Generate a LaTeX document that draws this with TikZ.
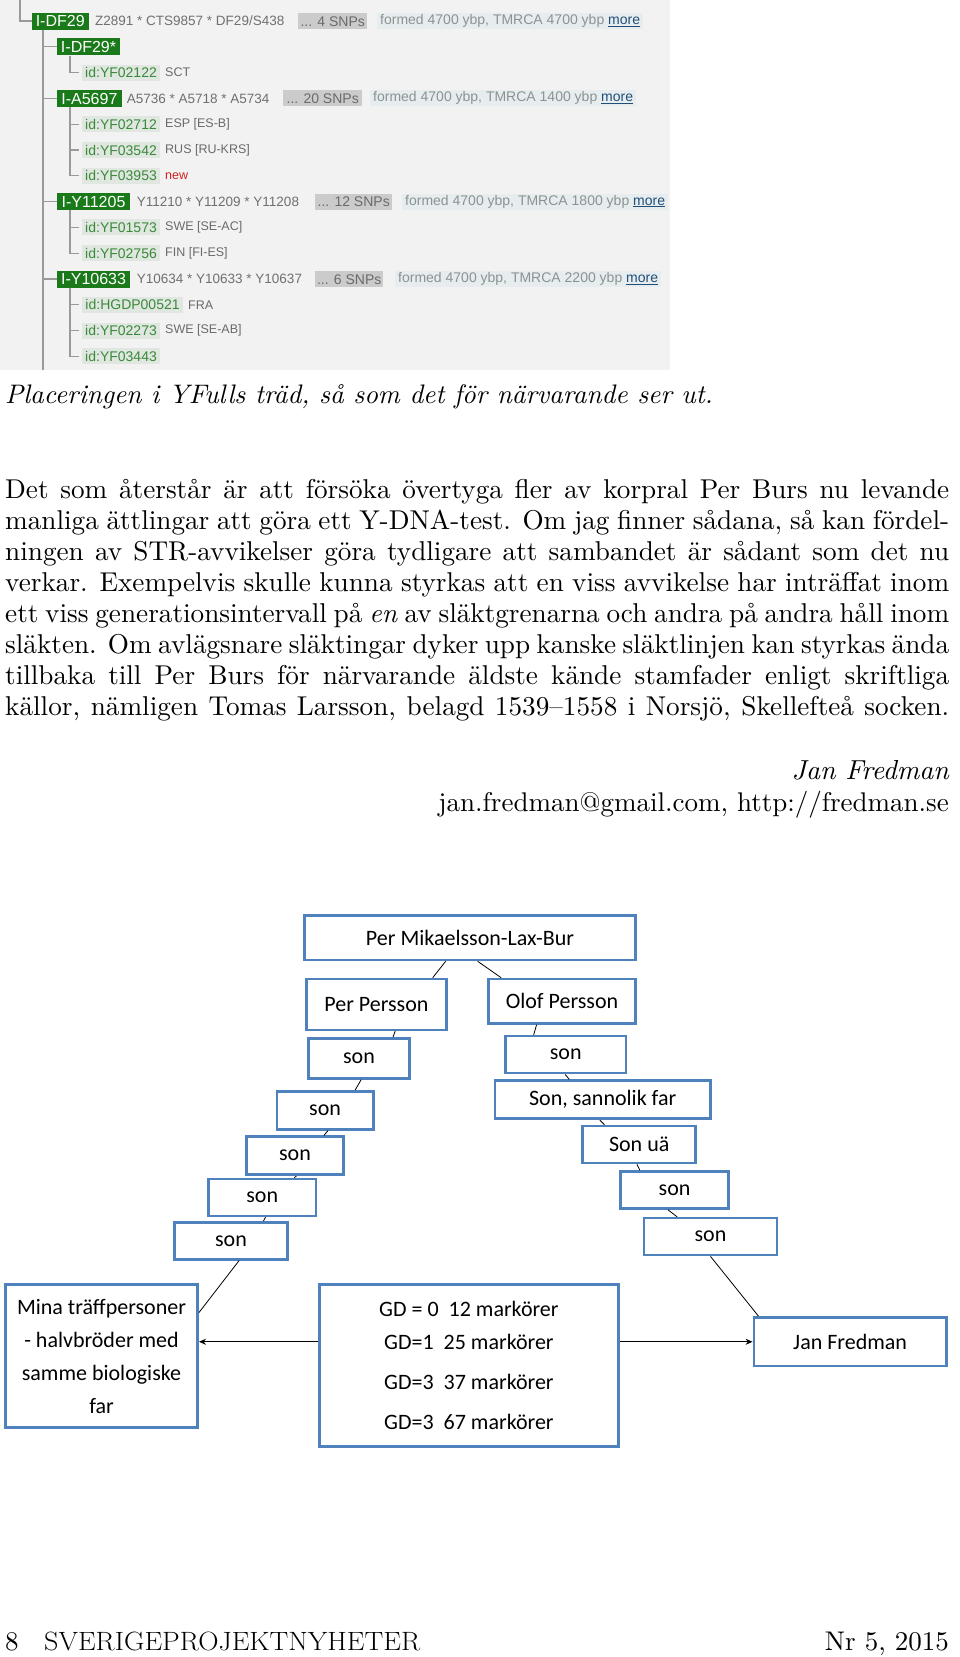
\documentclass[tikz,border=0pt]{standalone}
\usepackage{fontspec}
\usepackage{graphicx}
\newfontfamily\tsf{Liberation Sans}
\newfontfamily\carl{Carlito}
\newfontfamily\cmten{lmroman10}[Extension=.otf, UprightFont=*-regular, ItalicFont=*-italic]
\usetikzlibrary{calc,arrows.meta}
\definecolor{panelbg}{HTML}{F2F2F2}
\definecolor{ygreen}{RGB}{26,122,26}
\definecolor{idbg}{HTML}{E0E6E0}
\definecolor{idgreen}{HTML}{3A8A3A}
\definecolor{mkgrey}{HTML}{707070}
\definecolor{cgrey}{HTML}{6A6A6A}
\definecolor{snpbg}{HTML}{CBCBCB}
\definecolor{snptext}{HTML}{6A6A6A}
\definecolor{formbg}{HTML}{E7EDEE}
\definecolor{formtext}{HTML}{8A9393}
\definecolor{moreblue}{HTML}{1F4E79}
\definecolor{newred}{HTML}{D02020}
\definecolor{tline}{HTML}{9A9A9A}
\definecolor{boxblue}{HTML}{4F81BD}
\tikzset{
  hdr/.style={anchor=west, fill=ygreen, text=white, font=\tsf\fontsize{16}{16}\selectfont, inner xsep=0pt, inner ysep=0pt, minimum height=17pt, text height=11.5pt, text depth=0pt},
  idb/.style={anchor=west, fill=idbg, text=idgreen, font=\tsf\fontsize{14}{14}\selectfont, inner xsep=0pt, inner ysep=0pt, minimum height=16pt, minimum width=78.3pt, text height=10pt, text depth=0pt},
  mk/.style={anchor=west, text=mkgrey, font=\tsf\fontsize{13.5}{14}\selectfont, inner sep=0pt},
  ctry/.style={anchor=west, text=cgrey, font=\tsf\fontsize{12.5}{13}\selectfont, inner sep=0pt},
  snp/.style={anchor=west, fill=snpbg, text=snptext, font=\tsf\fontsize{14}{14}\selectfont, inner xsep=0pt, inner ysep=0pt, minimum height=16pt, text height=10pt, text depth=0pt},
  formed/.style={anchor=west, fill=formbg, text=formtext, font=\tsf\fontsize{14}{14}\selectfont, inner xsep=3pt, inner ysep=0pt, minimum height=16pt, text height=10pt, text depth=3pt},
  tl/.style={draw=tline, line width=1.1pt},
  dbox/.style={draw=boxblue, line width=2.6pt, font=\carl\fontsize{22}{26}\selectfont, inner sep=0pt, align=center},
  cn/.style={draw=black, line width=0.8pt},
  arr/.style={draw=black, line width=1pt, -{Stealth[length=7pt,width=6pt]}},
  body/.style={anchor=base west, inner sep=0pt, font=\cmten\fontsize{27.2}{31}\selectfont},
}
\newcommand{\jline}[1]{\makebox[944pt][s]{#1}}
\newcommand{\mr}{\textcolor{moreblue}{\underline{more}}}
\begin{document}
\begin{tikzpicture}[x=1pt,y=-1pt]
\useasboundingbox (0,0) rectangle (960,1657);
\fill[white] (0,0) rectangle (960,1657);
% ---------------- screenshot panel ----------------
\fill[panelbg] (0,0) rectangle (670,370);
\node[hdr, minimum width=56.6pt] (df29) at (31.7,21) {I-DF29};
\node[mk] (mk0) at (95,21) {Z2891 * CTS9857 * DF29/S438};
\node[snp, minimum width=69pt] (s0) at (298,21) {... 4 SNPs};
\node[formed] (f0) at (377,21) {formed 4700 ybp, TMRCA 4700 ybp \mr};

\node[hdr, minimum width=63.3pt] (df29s) at (56.7,46.8) {I-DF29*};
\node[idb] (id2) at (81.7,72.6) {id:YF02122};
\node[ctry] (c2) at (165,72.6) {SCT};

\node[hdr, minimum width=65pt] (a5697) at (56.7,98.4) {I-A5697};
\node[mk] (mk3) at (126.7,98.4) {A5736 * A5718 * A5734};
\node[snp, minimum width=79pt] (s3) at (283,98.4) {... 20 SNPs};
\node[formed] (f3) at (370,98.4) {formed 4700 ybp, TMRCA 1400 ybp \mr};
\node[idb] (id4) at (81.7,124.2) {id:YF02712};
\node[ctry] (c4) at (165,124.2) {ESP [ES-B]};
\node[idb] (id5) at (81.7,150) {id:YF03542};
\node[ctry] (c5) at (165,150) {RUS [RU-KRS]};
\node[idb] (id6) at (81.7,175.8) {id:YF03953};
\node[ctry, text=newred] (c6) at (165,175.8) {new};

\node[hdr, minimum width=73.3pt] (y11205) at (56.7,201.6) {I-Y11205};
\node[mk] (mk7) at (136.7,201.6) {Y11210 * Y11209 * Y11208};
\node[snp, minimum width=77pt] (s7) at (315,201.6) {... 12 SNPs};
\node[formed] (f7) at (402,201.6) {formed 4700 ybp, TMRCA 1800 ybp \mr};
\node[idb] (id8) at (81.7,227.4) {id:YF01573};
\node[ctry] (c8) at (165,227.4) {SWE [SE-AC]};
\node[idb] (id9) at (81.7,253.2) {id:YF02756};
\node[ctry] (c9) at (165,253.2) {FIN [FI-ES]};

\node[hdr, minimum width=73.3pt] (y10633) at (56.7,279) {I-Y10633};
\node[mk] (mk10) at (136.7,279) {Y10634 * Y10633 * Y10637};
\node[snp, minimum width=68pt] (s10) at (315,279) {... 6 SNPs};
\node[formed] (f10) at (395,279) {formed 4700 ybp, TMRCA 2200 ybp \mr};
\node[idb, minimum width=101.3pt] (id11) at (81.7,304.8) {id:HGDP00521};
\node[ctry] (c11) at (188,304.8) {FRA};
\node[idb] (id12) at (81.7,330.6) {id:YF02273};
\node[ctry] (c12) at (165,330.6) {SWE [SE-AB]};
\node[idb] (id13) at (81.7,356.4) {id:YF03443};

\coordinate (tin) at (20,0);
\coordinate (pbot) at (43,370);
\draw[tl] (tin) |- (df29.west);
\draw[tl] ([xshift=11.3pt]df29.south west) -- (pbot);
\foreach \c in {df29s,a5697,y11205,y10633} \draw[tl] (pbot |- \c.west) -- (\c.west);
\draw[tl, shorten >=3pt] ([xshift=13.3pt]df29s.south west) |- (id2.west);
\foreach \c in {id4,id5,id6} \draw[tl, shorten >=3pt] ([xshift=13.3pt]a5697.south west) |- (\c.west);
\foreach \c in {id8,id9} \draw[tl, shorten >=3pt] ([xshift=13.3pt]y11205.south west) |- (\c.west);
\foreach \c in {id11,id12,id13} \draw[tl, shorten >=3pt] ([xshift=13.3pt]y10633.south west) |- (\c.west);

% ---------------- caption and text ----------------
\node[anchor=base west, inner sep=0pt, font=\cmten\fontsize{26.8}{31}\selectfont\itshape] (cap) at (5,403) {Placeringen i YFulls träd, så som det för närvarande ser ut.};
\node[body] (b1) at (5,498) {\jline{Det som återstår är att försöka övertyga fler av korpral Per Burs nu levande}};
\node[body] (b2) at (5,529) {\jline{manliga ättlingar att göra ett Y-DNA-test. Om jag finner sådana, så kan fördel-}};
\node[body] (b3) at (5,560) {\jline{ningen av STR-avvikelser göra tydligare att sambandet är sådant som det nu}};
\node[body] (b4) at (5,591) {\jline{verkar. Exempelvis skulle kunna styrkas att en viss avvikelse har inträffat inom}};
\node[body] (b5) at (5,622.5) {\jline{ett viss generationsintervall på \emph{en} av släktgrenarna och andra på andra håll inom}};
\node[body] (b6) at (5,653.5) {\jline{släkten. Om avlägsnare släktingar dyker upp kanske släktlinjen kan styrkas ända}};
\node[body] (b7) at (5,684.5) {\jline{tillbaka till Per Burs för närvarande äldste kände stamfader enligt skriftliga}};
\node[body] (b8) at (5,715.5) {\jline{källor, nämligen Tomas Larsson, belagd 1539–1558 i Norsjö, Skellefteå socken.}};
\node[anchor=base east, inner sep=0pt, font=\cmten\fontsize{27.5}{31}\selectfont\itshape] (sig) at (949,779) {Jan Fredman};
\node[anchor=base east, inner sep=0pt, font=\cmten\fontsize{27}{31}\selectfont] (mail) at (949,811) {jan.fredman@gmail.com, http://fredman.se};

% ---------------- family diagram ----------------
\node[dbox, minimum width=331pt, minimum height=44.4pt] (top) at (470,937.8) {Per Mikaelsson-Lax-Bur};
\node[dbox, minimum width=139.6pt, minimum height=50.8pt] (pp) at (376.4,1004.4) {Per Persson};
\node[dbox, minimum width=147pt, minimum height=44.4pt] (op) at (562,1001.2) {Olof Persson};
\node[dbox, minimum width=100.5pt, minimum height=40.2pt] (l1) at (359,1058.4) {son};
\node[dbox, minimum width=96.2pt, minimum height=38pt] (l2) at (325.1,1110.2) {son};
\node[dbox, minimum width=97.3pt, minimum height=38.1pt] (l3) at (295,1155.7) {son};
\node[dbox, minimum width=107.8pt, minimum height=37pt] (l4) at (262.2,1197.4) {son};
\node[dbox, minimum width=113.1pt, minimum height=36.9pt] (l5) at (231,1240.8) {son};
\node[dbox, minimum width=120.5pt, minimum height=37pt] (r1) at (565.7,1054.6) {son};
\node[dbox, minimum width=215.7pt, minimum height=38.1pt] (r2) at (602.7,1099.7) {Son, sannolik far};
\node[dbox, minimum width=113.1pt, minimum height=37pt] (r3) at (639.2,1144.5) {Son uä};
\node[dbox, minimum width=107.9pt, minimum height=37pt] (r4) at (674.6,1190) {son};
\node[dbox, minimum width=133.2pt, minimum height=37pt] (r5) at (710.5,1236.6) {son};
\node[dbox, minimum width=192.4pt, minimum height=142.8pt, font=\carl\fontsize{22}{33}\selectfont] (mina) at (101.5,1356) {Mina träffpersoner\\- halvbröder med\\samme biologiske\\far};
\node[dbox, minimum width=299.2pt, minimum height=161.8pt, font=\carl\fontsize{22}{32.8}\selectfont] (gd) at (468.9,1365.5) {GD = 0~~12 markörer\\GD=1~~25 markörer\\[7.4pt]GD=3~~37 markörer\\[7.4pt]GD=3~~67 markörer};
\node[dbox, minimum width=192.4pt, minimum height=48.7pt] (jan) at (850.1,1341.75) {Jan Fredman};

\draw[cn] ($(top.south west)!0.427!(top.south east)$) -- ($(pp.north west)!0.896!(pp.north east)$);
\draw[cn] ($(top.south west)!0.523!(top.south east)$) -- ($(op.north west)!0.093!(op.north east)$);
\draw[cn] ($(pp.south west)!0.632!(pp.south east)$) -- ($(l1.north west)!0.83!(l1.north east)$);
\draw[cn] ($(l1.south west)!0.52!(l1.south east)$) -- ($(l2.north west)!0.805!(l2.north east)$);
\draw[cn] ($(l2.south west)!0.53!(l2.south east)$) -- ($(l3.north west)!0.79!(l3.north east)$);
\draw[cn] ($(l3.south west)!0.515!(l3.south east)$) -- ($(l4.north west)!0.79!(l4.north east)$);
\draw[cn] ($(l4.south west)!0.53!(l4.south east)$) -- ($(l5.north west)!0.78!(l5.north east)$);
\draw[cn] ($(l5.south west)!0.57!(l5.south east)$) -- ([yshift=43.5pt]mina.east);
\draw[cn] ($(op.south west)!0.33!(op.south east)$) -- ($(r1.north west)!0.24!(r1.north east)$);
\draw[cn] ($(r1.south west)!0.495!(r1.south east)$) -- ($(r2.north west)!0.347!(r2.north east)$);
\draw[cn] ($(r2.south west)!0.487!(r2.south east)$) -- ($(r3.north west)!0.2!(r3.north east)$);
\draw[cn] ($(r3.south west)!0.48!(r3.south east)$) -- ($(r4.north west)!0.185!(r4.north east)$);
\draw[cn] ($(r4.south west)!0.44!(r4.south east)$) -- ($(r5.north west)!0.254!(r5.north east)$);
\draw[cn] ($(r5.south west)!0.5!(r5.south east)$) -- ($(jan.north west)!0.03!(jan.north east)$);
\draw[arr] (gd.west |- jan.west) -- (mina.east |- jan.west);
\draw[arr] (gd.east |- jan.west) -- (jan.west);

% ---------------- footer ----------------
\node[anchor=base west, inner sep=0pt, font=\cmten\fontsize{27}{27}\selectfont] (pg) at (5,1650) {8};
\node[anchor=base west, inner sep=0pt] (mag) at (44,1650) {\resizebox{376pt}{18.5pt}{\fontsize{20}{20}\selectfont SVERIGEPROJEKTNYHETER}};
\node[anchor=base east, inner sep=0pt, font=\cmten\fontsize{27}{27}\selectfont] (nr) at (949,1650) {Nr 5, 2015};
\end{tikzpicture}
\end{document}
